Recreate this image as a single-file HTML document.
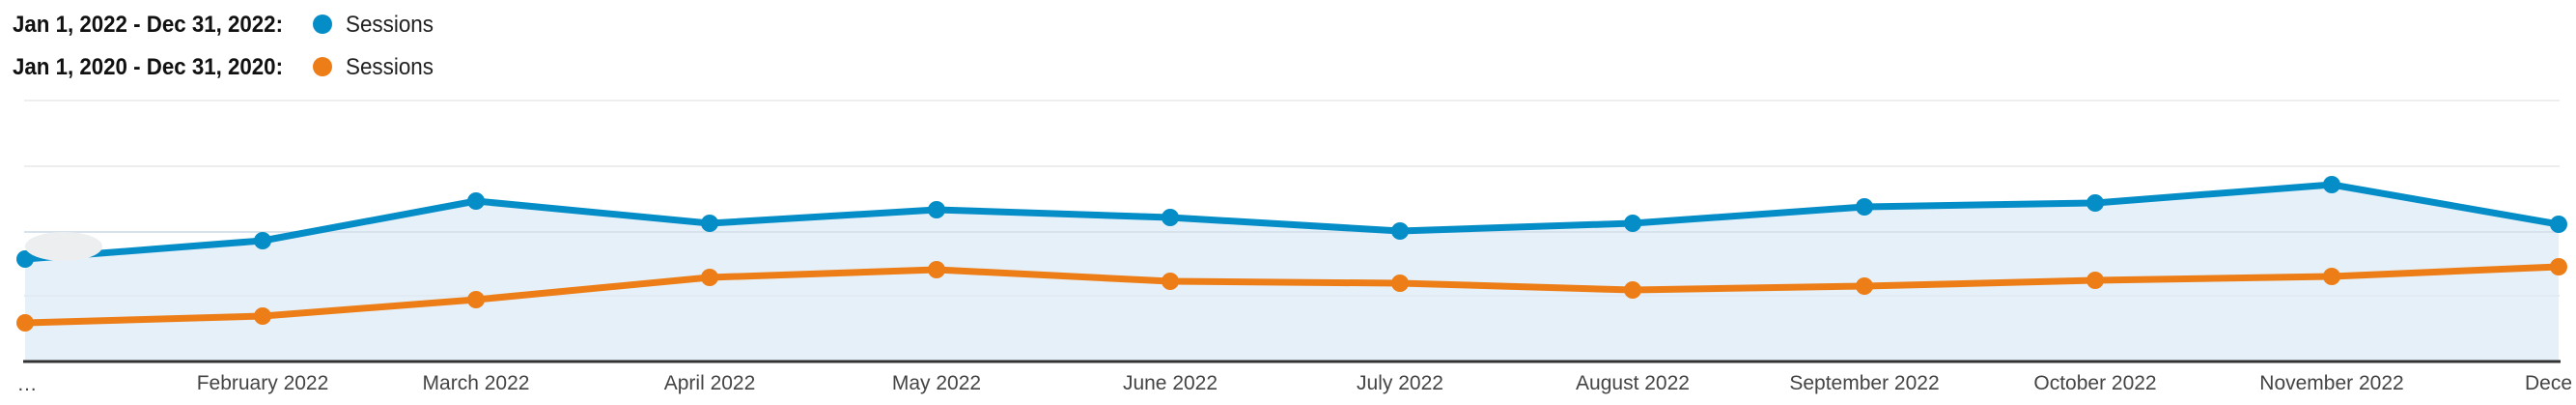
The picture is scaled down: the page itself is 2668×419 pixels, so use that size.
<!DOCTYPE html>
<html><head><meta charset="utf-8"><style>
body{margin:0;background:#fff;width:2668px;height:414px;overflow:hidden;font-family:"Liberation Sans",Arial,sans-serif}
</style></head><body>
<svg width="2668" height="414" xmlns="http://www.w3.org/2000/svg">
<g font-family="Liberation Sans, Arial, sans-serif">
<text x="13" y="33" font-size="24" font-weight="bold" fill="#111" textLength="280" lengthAdjust="spacingAndGlyphs">Jan 1, 2022 - Dec 31, 2022:</text>
<text x="13" y="77" font-size="24" font-weight="bold" fill="#111" textLength="280" lengthAdjust="spacingAndGlyphs">Jan 1, 2020 - Dec 31, 2020:</text>
<circle cx="334" cy="25" r="10" fill="#058dc7"/>
<circle cx="334" cy="69" r="10" fill="#ed7e17"/>
<text x="358" y="33" font-size="24" fill="#222" textLength="91" lengthAdjust="spacingAndGlyphs">Sessions</text>
<text x="358" y="77" font-size="24" fill="#222" textLength="91" lengthAdjust="spacingAndGlyphs">Sessions</text>
</g>
<g stroke="#eeeeee" stroke-width="2">
<line x1="25" y1="104" x2="2651" y2="104"/>
<line x1="25" y1="172" x2="2651" y2="172"/>
<line x1="25" y1="240" x2="2651" y2="240"/>
<line x1="25" y1="306" x2="2651" y2="306"/>
</g>
<polygon fill="#e6f0f9" points="26,268 272,249 493,208 735,231 970,217 1212,225 1450,239 1691,231 1931,214 2170,210 2415,191 2650,232 2650,373 26,373"/>
<line x1="25" y1="240" x2="2651" y2="240" stroke="#d8e2ec" stroke-width="2"/>
<line x1="25" y1="306" x2="2651" y2="306" stroke="#dde6ef" stroke-width="1"/>
<line x1="24" y1="374" x2="2652" y2="374" stroke="#333" stroke-width="3"/>
<polyline fill="none" stroke="#058dc7" stroke-width="7" stroke-linejoin="round" points="26,268 272,249 493,208 735,231 970,217 1212,225 1450,239 1691,231 1931,214 2170,210 2415,191 2650,232"/>
<polyline fill="none" stroke="#ed7e17" stroke-width="7" stroke-linejoin="round" points="26,334 272,327 493,310 735,287 970,279 1212,291 1450,293 1691,300 1931,296 2170,290 2415,286 2650,276"/>
<g fill="#058dc7">
<circle cx="26" cy="268" r="9"/><circle cx="272" cy="249" r="9"/><circle cx="493" cy="208" r="9"/><circle cx="735" cy="231" r="9"/><circle cx="970" cy="217" r="9"/><circle cx="1212" cy="225" r="9"/><circle cx="1450" cy="239" r="9"/><circle cx="1691" cy="231" r="9"/><circle cx="1931" cy="214" r="9"/><circle cx="2170" cy="210" r="9"/><circle cx="2415" cy="191" r="9"/><circle cx="2650" cy="232" r="9"/>
</g>
<g fill="#ed7e17">
<circle cx="26" cy="334" r="9"/><circle cx="272" cy="327" r="9"/><circle cx="493" cy="310" r="9"/><circle cx="735" cy="287" r="9"/><circle cx="970" cy="279" r="9"/><circle cx="1212" cy="291" r="9"/><circle cx="1450" cy="293" r="9"/><circle cx="1691" cy="300" r="9"/><circle cx="1931" cy="296" r="9"/><circle cx="2170" cy="290" r="9"/><circle cx="2415" cy="286" r="9"/><circle cx="2650" cy="276" r="9"/>
</g>
<ellipse cx="66" cy="255" rx="40" ry="15" fill="#eceef0"/>
<g font-family="Liberation Sans, Arial, sans-serif" font-size="21" fill="#444" text-anchor="middle">
<text x="28" y="404">…</text>
<text x="272" y="403">February 2022</text>
<text x="493" y="403">March 2022</text>
<text x="735" y="403">April 2022</text>
<text x="970" y="403">May 2022</text>
<text x="1212" y="403">June 2022</text>
<text x="1450" y="403">July 2022</text>
<text x="1691" y="403">August 2022</text>
<text x="1931" y="403">September 2022</text>
<text x="2170" y="403">October 2022</text>
<text x="2415" y="403">November 2022</text>
<text x="2615" y="403" text-anchor="start">Dece</text>
</g>
</svg>
</body></html>
